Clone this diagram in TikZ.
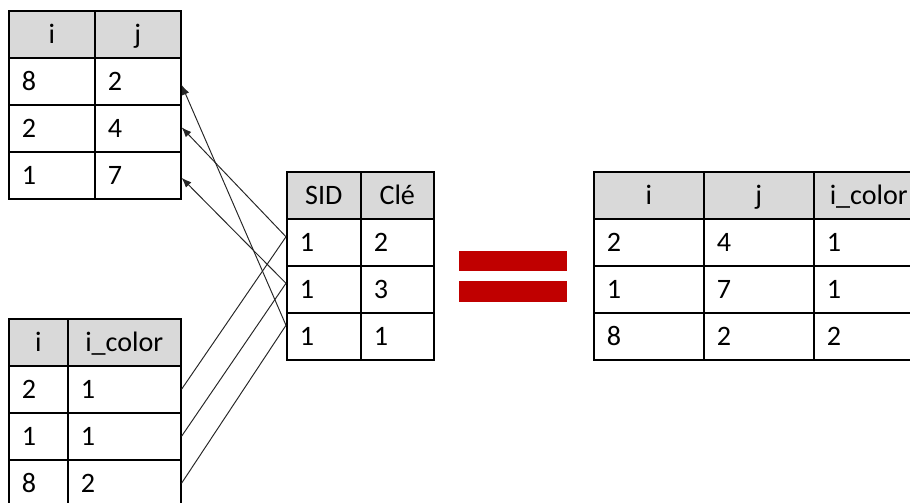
\documentclass[tikz,border=0pt]{standalone}
\usepackage{fontspec}
\setmainfont{Carlito}
\usetikzlibrary{arrows.meta}
\definecolor{hdgray}{HTML}{D9D9D9}
\definecolor{eqred}{HTML}{C00000}
\begin{document}
\begin{tikzpicture}[x=0.02cm,y=-0.02cm,
  cell/.style={draw=black, line width=0.9pt, minimum height=0.94cm, inner ysep=0pt,
    anchor=north west, font=\fontsize{16pt}{19pt}\selectfont, text height=10.3pt, text depth=0pt},
  hd/.style={cell, fill=hdgray, minimum width=#1, inner xsep=0pt},
  dc/.style={cell, text width=#1, inner xsep=0.26cm, align=left},
  conn/.style={draw=black!85, line width=0.55pt},
  arr/.style={conn, -{Latex[length=2mm,width=1.5mm]}},
  eqbar/.style={fill=eqred}]
\useasboundingbox (0,0) rectangle (910,503);
\clip (0,0) rectangle (910,503);
% table 1 : i, j
\node[hd=1.72cm] (a0i) at (8,10) {i};
\node[hd=1.72cm] (a0j) at (94,10) {j};
\node[dc=1.2cm] (a1i) at (8,57) {8};
\node[dc=1.2cm] (a1j) at (94,57) {2};
\node[dc=1.2cm] (a2i) at (8,104) {2};
\node[dc=1.2cm] (a2j) at (94,104) {4};
\node[dc=1.2cm] (a3i) at (8,151) {1};
\node[dc=1.2cm] (a3j) at (94,151) {7};
% table 2 : i, i_color
\node[hd=1.18cm] (b0i) at (8,318) {i};
\node[hd=2.26cm] (b0c) at (67,318) {i\_color};
\node[dc=0.66cm] (b1i) at (8,365) {2};
\node[dc=1.74cm] (b1c) at (67,365) {1};
\node[dc=0.66cm] (b2i) at (8,412) {1};
\node[dc=1.74cm] (b2c) at (67,412) {1};
\node[dc=0.66cm] (b3i) at (8,459) {8};
\node[dc=1.74cm] (b3c) at (67,459) {2};
% table 3 : SID, Clé
\node[hd=1.48cm] (s0a) at (286,171) {SID};
\node[hd=1.46cm] (s0b) at (360,171) {Clé};
\node[dc=0.96cm] (s1a) at (286,218) {1};
\node[dc=0.94cm] (s1b) at (360,218) {2};
\node[dc=0.96cm] (s2a) at (286,265) {1};
\node[dc=0.94cm] (s2b) at (360,265) {3};
\node[dc=0.96cm] (s3a) at (286,312) {1};
\node[dc=0.94cm] (s3b) at (360,312) {1};
% table 4 : result
\node[hd=2.2cm] (r0i) at (593,171) {i};
\node[hd=2.2cm] (r0j) at (703,171) {j};
\node[hd=2.2cm] (r0c) at (813,171) {i\_color};
\node[dc=1.68cm] (r1i) at (593,218) {2};
\node[dc=1.68cm] (r1j) at (703,218) {4};
\node[dc=1.68cm] (r1c) at (813,218) {1};
\node[dc=1.68cm] (r2i) at (593,265) {1};
\node[dc=1.68cm] (r2j) at (703,265) {7};
\node[dc=1.68cm] (r2c) at (813,265) {1};
\node[dc=1.68cm] (r3i) at (593,312) {8};
\node[dc=1.68cm] (r3j) at (703,312) {2};
\node[dc=1.68cm] (r3c) at (813,312) {2};
% equals sign
\fill[eqbar] (459,251) rectangle (567,271);
\fill[eqbar] (459,281) rectangle (567,302);
% connectors
\coordinate (p1) at ([yshift=0.11cm]s1a.west);
\coordinate (p2) at ([yshift=0.12cm]s2a.west);
\coordinate (p3) at ([yshift=0.22cm]s3a.west);
\draw[conn] (b1c.east) -- (p1);
\draw[conn] (b2c.east) -- (p2);
\draw[conn] (b3c.east) -- (p3);
\draw[arr] (p1) -- ([yshift=0.02cm]a2j.east);
\draw[arr] (p2) -- ([yshift=-0.05cm]a3j.east);
\draw[arr] (p3) -- ([yshift=-0.07cm]a1j.east);
\end{tikzpicture}
\end{document}
